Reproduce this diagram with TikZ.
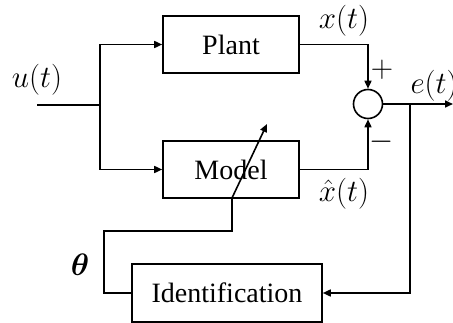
\RequirePackage{fix-cm}
\documentclass[tikz,border=0pt]{standalone}
\usepackage{fontspec}
\setmainfont{Liberation Serif}
\usepackage{bm}
\usetikzlibrary{arrows.meta}
\begin{document}
\begin{tikzpicture}[x=1pt,y=-1pt,
  every node/.style={font=\fontsize{28}{32}\selectfont},
  mathlabel/.style={font=\fontsize{31}{36}\selectfont, inner sep=0pt},
  block/.style={draw, line width=1.6pt, inner sep=0pt},
  sumjunction/.style={draw, circle, line width=1.6pt, minimum size=29pt, inner sep=0pt},
  wire/.style={line width=1.6pt},
  sig/.style={wire, -{Triangle[length=8pt,width=7pt]}}]
\useasboundingbox (0,0) rectangle (453,323);

% blocks
\node[block, minimum width=136pt, minimum height=57pt] (plant) at (231,44.5) {Plant};
\node[block, minimum width=136pt, minimum height=57pt] (model) at (231,169.5) {Model};
\node[block, minimum width=190pt, minimum height=58pt] (ident) at (227,293) {Identification};
\node[sumjunction] (sum) at (368,104) {};

% branch points
\coordinate (uin) at (37,105);
\coordinate (ujoin) at (100,105);
\coordinate (esplit) at (410,104);
\coordinate (eout) at (453,104);
\coordinate (thL) at (104,293);
\coordinate (thC) at (232,231);
\coordinate (thB) at (232,198);
\coordinate (thT) at (267,124);

% input distribution
\draw[wire] (uin) -- (ujoin);
\draw[sig] (ujoin) |- (plant.west);
\draw[sig] (ujoin) |- (model.west);

% outputs into the comparator
\draw[sig] (plant.east) -| (sum.north);
\draw[sig] (model.east) -| (sum.south);

% error signal
\draw[sig] (sum.east) -- (eout);
\draw[sig] (esplit) |- (ident.east);

% parameter update path
\draw[wire] (ident.west) -- (thL) |- (thC) -- (thB);
\draw[sig] (thB) -- (thT);

% labels
\node[mathlabel] at (37,80) {$u(t)$};
\node[mathlabel] at (344,21) {$x(t)$};
\node[mathlabel] at (344,194) {$\hat{x}(t)$};
\node[mathlabel] at (434,86) {$e(t)$};
\node[mathlabel] at (80,265) {$\bm{\theta}$};
\node[mathlabel] at (382,70) {$+$};
\node[mathlabel] at (382,142) {$-$};
\end{tikzpicture}
\end{document}
